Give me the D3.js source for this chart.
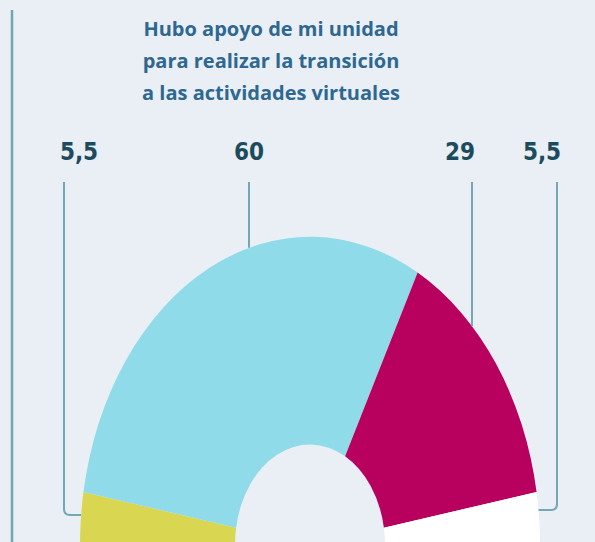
<!DOCTYPE html>
<html>
<head>
<meta charset="utf-8">
<script src="https://cdn.jsdelivr.net/npm/d3@7"></script>
<style>
  body { margin: 0; background: #eaeff5; }
  .title { font-family: "Open Sans", sans-serif; font-weight: 700; fill: #2e6890; }
  .lbl { font-family: "DejaVu Sans Condensed", "DejaVu Sans", sans-serif; font-weight: 700; fill: #1c4b5e; }
</style>
</head>
<body>
<div class="chart"></div>
<script>
// data
var categories = ["Nada", "Mucho", "Algo", "No sabe"];
var values = [5.5, 60, 29, 5.5];
var valueLabels = ["5,5", "60", "29", "5,5"];
var colors = ["#d9d651", "#8fdbe9", "#b8005f", "#ffffff"];
var titleLines = ["Hubo apoyo de mi unidad", "para realizar la transición", "a las actividades virtuales"];

var width = 595;
var height = 542;

// donut geometry (picture is stretched vertically)
var cx = 310, cy = 545;
var outerR = 230, innerR = 75;
var stretch = 1.34;

// where labels and their leader lines sit
var labelX = [79, 249, 460, 542];
var lineX = [64, 249, 472, 557];
var lineTop = 182;
var hookY = [515, null, null, 510];

var svg = d3.select(".chart").append("svg")
    .attr("width", width)
    .attr("height", height);

svg.append("rect")
    .attr("width", width)
    .attr("height", height)
    .attr("fill", "#eaeff5");

// left rule
svg.append("line")
    .attr("x1", 12).attr("x2", 12)
    .attr("y1", 10).attr("y2", height)
    .attr("stroke", "#6fa9ae")
    .attr("stroke-width", 2.5);

// title
svg.append("text")
    .attr("class", "title")
    .attr("text-anchor", "middle")
    .attr("font-size", 20)
    .selectAll("tspan")
    .data(titleLines)
    .enter()
    .append("tspan")
    .attr("x", 271)
    .attr("y", (d, i) => 36 + i * 32)
    .text(d => d);

// pie
var pie = d3.pie()
    .sort(null)
    .startAngle(-Math.PI / 2)
    .endAngle(Math.PI / 2);

var arcs = pie(values);

var arc = d3.arc()
    .innerRadius(innerR)
    .outerRadius(outerR);

var g = svg.append("g")
    .attr("transform", "translate(" + cx + "," + cy + ") scale(1," + stretch + ")");

g.selectAll("path")
    .data(arcs)
    .enter()
    .append("path")
    .attr("d", arc)
    .attr("fill", (d, i) => colors[i]);

// y of the outer edge for a given x
function edgeY(x) {
  var dx = x - cx;
  return cy - stretch * Math.sqrt(Math.max(0, outerR * outerR - dx * dx));
}
// x of the outer edge for a given y, on the side given
function edgeX(y, side) {
  var dy = (cy - y) / stretch;
  return cx + side * Math.sqrt(Math.max(0, outerR * outerR - dy * dy));
}

// leader lines
var leaders = svg.append("g")
    .attr("fill", "none")
    .attr("stroke", "#74a6b3")
    .attr("stroke-width", 2);

arcs.forEach(function(d, i) {
  var x = lineX[i];
  var p = d3.path();
  p.moveTo(x, lineTop);
  if (hookY[i] != null) {
    var side = x < cx ? -1 : 1;
    var y = hookY[i];
    var ex = edgeX(y, side);
    var rr = 6;
    p.lineTo(x, y - rr);
    p.quadraticCurveTo(x, y, x - side * rr, y);
    p.lineTo(ex, y);
  } else {
    p.lineTo(x, edgeY(x));
  }
  leaders.append("path").attr("d", p.toString());
});

// value labels
svg.selectAll(".lbl")
    .data(valueLabels)
    .enter()
    .append("text")
    .attr("class", "lbl")
    .attr("x", (d, i) => labelX[i])
    .attr("y", 160)
    .attr("text-anchor", "middle")
    .attr("font-size", 24)
    .text(d => d);
</script>
</body>
</html>
